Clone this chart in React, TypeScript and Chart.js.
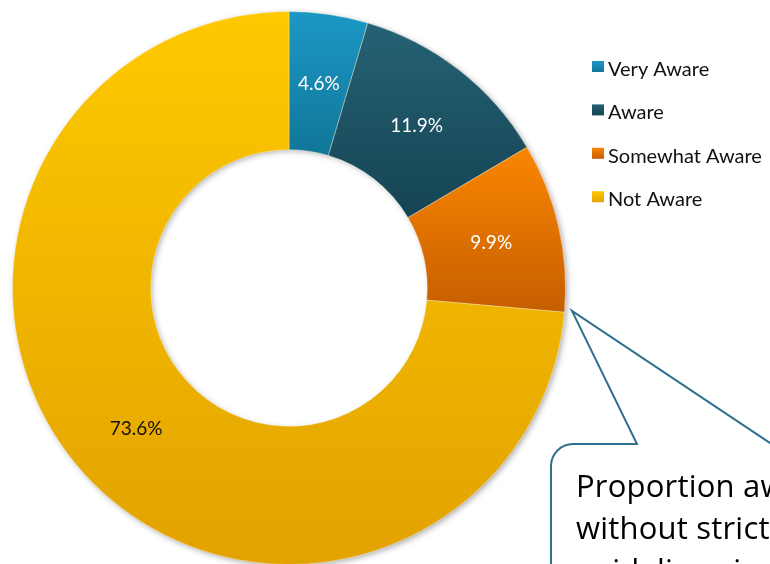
import { useEffect, useRef } from "react";
import { Chart, registerables } from "chart.js";

Chart.register(...registerables);

const categories = ["Very Aware", "Aware", "Somewhat Aware", "Not Aware"];
const shares = [4.6, 11.9, 9.9, 73.6];
const valueLabels = ["4.6%", "11.9%", "9.9%", "73.6%"];
const gradientTops = ["#1c98c5", "#256275", "#fa8600", "#fec900"];
const gradientBottoms = ["#117699", "#154452", "#c65e00", "#e2a200"];
const labelColors = ["#ffffff", "#ffffff", "#ffffff", "#111111"];
const calloutLines = ["Proportion aware", "without strict", "guidelines in use"];

const CUTOUT = 0.5;

function segmentGeometry(chart: any, i: number) {
  const ca = chart.chartArea;
  const cx = (ca.left + ca.right) / 2;
  const cy = (ca.top + ca.bottom) / 2;
  const R = Math.min(ca.width, ca.height) / 2;
  const r = R * CUTOUT;
  const total = shares.reduce((a, b) => a + b, 0);
  let cum = 0;
  for (let k = 0; k < i; k++) cum += shares[k];
  const start = -Math.PI / 2 + (2 * Math.PI * cum) / total;
  const end = start + (2 * Math.PI * shares[i]) / total;
  let minY = Infinity;
  let maxY = -Infinity;
  for (let k = 0; k <= 90; k++) {
    const a = start + ((end - start) * k) / 90;
    for (const rad of [r, R]) {
      const y = cy + rad * Math.sin(a);
      minY = Math.min(minY, y);
      maxY = Math.max(maxY, y);
    }
  }
  return { cx, cy, R, r, minY, maxY };
}

const shadowPlugin = {
  id: "ringShadow",
  beforeDatasetsDraw(chart: any) {
    const ca = chart.chartArea;
    const ctx = chart.ctx;
    const cx = (ca.left + ca.right) / 2;
    const cy = (ca.top + ca.bottom) / 2;
    const R = Math.min(ca.width, ca.height) / 2;
    const r = R * CUTOUT;
    ctx.save();
    ctx.shadowColor = "rgba(0,0,0,0.35)";
    ctx.shadowBlur = 6;
    ctx.shadowOffsetX = 2;
    ctx.shadowOffsetY = 2;
    ctx.beginPath();
    ctx.arc(cx, cy, R - 1, 0, Math.PI * 2);
    ctx.arc(cx, cy, r + 1, 0, Math.PI * 2, true);
    ctx.fillStyle = "#f0b400";
    ctx.fill();
    ctx.restore();
  },
};

const labelPlugin = {
  id: "segLabels",
  afterDatasetsDraw(chart: any) {
    const ctx = chart.ctx;
    const meta = chart.getDatasetMeta(0);
    ctx.save();
    ctx.font = "19px Lato";
    ctx.textAlign = "center";
    ctx.textBaseline = "middle";
    meta.data.forEach((arc: any, i: number) => {
      const p = arc.tooltipPosition();
      ctx.fillStyle = labelColors[i];
      ctx.fillText(valueLabels[i], p.x, p.y + 1);
    });
    ctx.restore();
  },
};

const legendPlugin = {
  id: "sideLegend",
  afterDraw(chart: any) {
    const ctx = chart.ctx;
    ctx.save();
    const x0 = 592;
    const baseY = 76;
    const step = 43.4;
    ctx.font = "20px Lato";
    ctx.textBaseline = "alphabetic";
    ctx.textAlign = "left";
    categories.forEach((c, i) => {
      const by = baseY + i * step;
      const g = ctx.createLinearGradient(0, by - 15, 0, by - 4);
      g.addColorStop(0, gradientTops[i]);
      g.addColorStop(1, gradientBottoms[i]);
      ctx.fillStyle = g;
      ctx.fillRect(x0, by - 15, 12, 11);
      ctx.fillStyle = "#111111";
      ctx.fillText(c, x0 + 16, by);
    });
    ctx.restore();
  },
};

const calloutPlugin = {
  id: "callout",
  afterDraw(chart: any) {
    const ctx = chart.ctx;
    ctx.save();
    const left = 551;
    const top = 444;
    const rad = 22;
    ctx.beginPath();
    ctx.moveTo(left, 620);
    ctx.lineTo(left, top + rad);
    ctx.arcTo(left, top, left + rad, top, rad);
    ctx.lineTo(637, top);
    ctx.lineTo(572, 311);
    ctx.lineTo(770, top - 1);
    ctx.lineTo(820, top);
    ctx.lineTo(820, 620);
    ctx.closePath();
    ctx.fillStyle = "#ffffff";
    ctx.fill();
    ctx.strokeStyle = "#2f6f8f";
    ctx.lineWidth = 2;
    ctx.stroke();
    ctx.fillStyle = "#000000";
    ctx.font = "31px 'Open Sans'";
    try {
      (ctx as any).letterSpacing = "0.2px";
    } catch (e) {}
    ctx.textBaseline = "alphabetic";
    calloutLines.forEach((line, i) => {
      ctx.fillText(line, 576, 497 + i * 42);
    });
    ctx.restore();
  },
};

export default function App() {
  const ref = useRef<HTMLCanvasElement | null>(null);
  useEffect(() => {
    if (!ref.current) return;
    const chart = new Chart(ref.current, {
      type: "doughnut",
      data: {
        labels: categories,
        datasets: [
          {
            data: shares,
            backgroundColor: (c: any) => {
              const chart = c.chart;
              const i = c.dataIndex;
              if (!chart.chartArea || i === undefined) return gradientTops[i ?? 0];
              const g = segmentGeometry(chart, i);
              const grad = chart.ctx.createLinearGradient(0, g.minY, 0, g.maxY);
              grad.addColorStop(0, gradientTops[i]);
              grad.addColorStop(1, gradientBottoms[i]);
              return grad;
            },
            borderWidth: 1,
            borderColor: "rgba(255,255,255,0.35)",
          },
        ],
      },
      options: {
        responsive: false,
        animation: false,
        cutout: "50%",
        layout: { padding: { left: 12, top: 11, right: 204, bottom: 35 } },
        plugins: {
          legend: { display: false },
          tooltip: { enabled: false },
        },
      },
      plugins: [shadowPlugin, labelPlugin, legendPlugin, calloutPlugin],
    });
    return () => chart.destroy();
  }, []);
  return (
    <div
      style={{
        position: "fixed",
        left: 0,
        top: 0,
        width: 770,
        height: 564,
        overflow: "hidden",
        background: "#ffffff",
      }}
    >
      <canvas ref={ref} width={770} height={600} style={{ display: "block", width: 770, height: 600 }} />
    </div>
  );
}
